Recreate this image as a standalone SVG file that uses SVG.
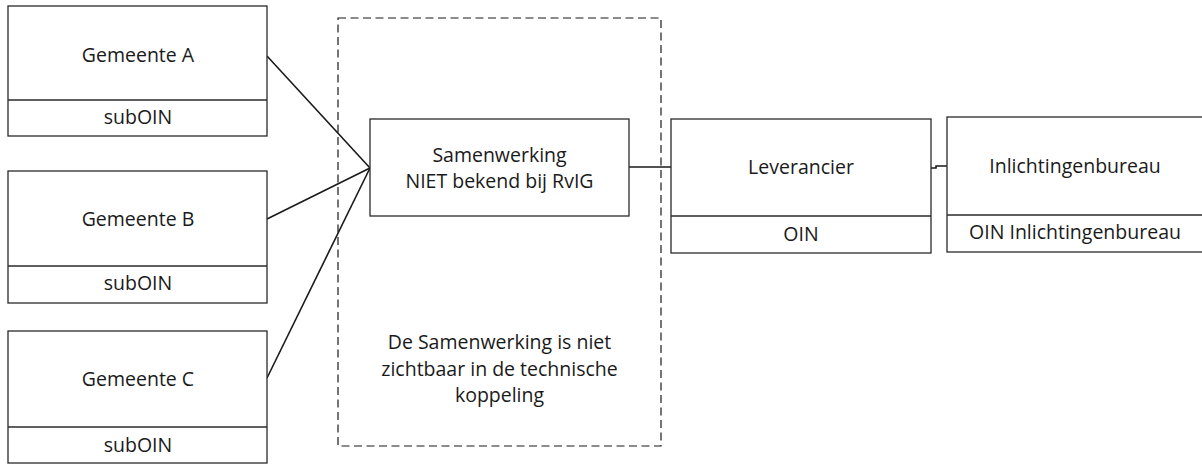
<svg xmlns="http://www.w3.org/2000/svg" width="1202" height="465" viewBox="0 0 1202 465">
<style>
.box{fill:#fff;stroke:#2a2a2a;stroke-width:1.3}
.div{stroke:#2a2a2a;stroke-width:1.3}
.conn{fill:none;stroke:#1a1a1a;stroke-width:1.6}
.dash{fill:none;stroke:#1a1a1a;stroke-width:1.2;stroke-dasharray:8 4.5}
text{font-family:"Open Sans","Noto Sans",sans-serif;font-size:19.5px;fill:#1a1a1a;text-anchor:middle}
</style>
<rect width="1202" height="465" fill="#fff"/>
<g id="samenwerking-zone">
<rect class="dash" x="338" y="18" width="323" height="428"/>
<text x="499.5" y="349">De Samenwerking is niet</text>
<text x="499.5" y="376">zichtbaar in de technische</text>
<text x="499.5" y="402">koppeling</text>
</g>
<g id="connectors">
<line class="conn" x1="267" y1="56" x2="370" y2="168"/>
<line class="conn" x1="267" y1="219" x2="370" y2="168"/>
<line class="conn" x1="267" y1="378" x2="370" y2="168"/>
<line class="conn" x1="629" y1="167" x2="671" y2="167"/>
<path class="conn" d="M931,168 H936 V166 H947"/>
</g>
<g id="gemeente-a">
<rect class="box" x="8" y="6" width="259" height="130"/>
<line class="div" x1="8" y1="100" x2="267" y2="100"/>
<text x="138" y="62">Gemeente A</text>
<text x="138" y="124">subOIN</text>
</g>
<g id="gemeente-b">
<rect class="box" x="8" y="171" width="259" height="132"/>
<line class="div" x1="8" y1="266" x2="267" y2="266"/>
<text x="138" y="226">Gemeente B</text>
<text x="138" y="290">subOIN</text>
</g>
<g id="gemeente-c">
<rect class="box" x="8" y="331" width="259" height="132"/>
<line class="div" x1="8" y1="427" x2="267" y2="427"/>
<text x="138" y="386">Gemeente C</text>
<text x="138" y="452">subOIN</text>
</g>
<g id="samenwerking">
<rect class="box" x="370" y="119" width="259" height="97"/>
<text x="499.5" y="162">Samenwerking</text>
<text x="499.5" y="188">NIET bekend bij RvIG</text>
</g>
<g id="leverancier">
<rect class="box" x="671" y="119" width="260" height="134"/>
<line class="div" x1="671" y1="216" x2="931" y2="216"/>
<text x="801" y="174">Leverancier</text>
<text x="801" y="241">OIN</text>
</g>
<g id="inlichtingenbureau">
<rect class="box" x="947" y="117" width="258" height="135"/>
<line class="div" x1="947" y1="215" x2="1205" y2="215"/>
<text x="1075" y="173">Inlichtingenbureau</text>
<text x="1075" y="239">OIN Inlichtingenbureau</text>
</g>
</svg>
